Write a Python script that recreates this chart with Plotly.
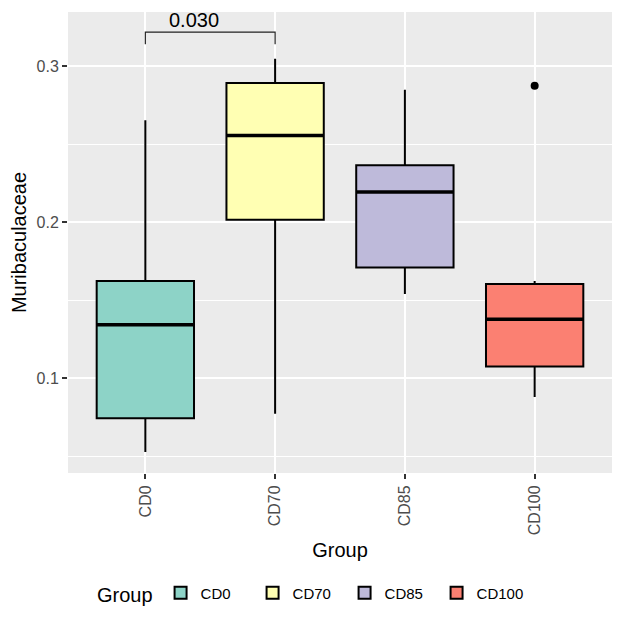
import plotly.graph_objs as go

# values
groups = ['CD0', 'CD70', 'CD85', 'CD100']
colors = ['#8DD3C7', '#FFFFB3', '#BEBADA', '#FB8072']
lower = [0.0528, 0.0773, 0.1541, 0.0881]
q1 = [0.0745, 0.2017, 0.1711, 0.1077]
median = [0.1345, 0.2558, 0.2196, 0.1379]
q3 = [0.1624, 0.2894, 0.2366, 0.1605]
upper = [0.2655, 0.3050, 0.2850, 0.1624]
outlier_group = [3]
outlier_value = [0.2877]

# significance bracket CD0 vs CD70
pval_text = '0.030'
bracket_groups = [0, 1]
bracket_top = 0.322
bracket_foot = 0.3143
label_x = 0.373
label_y = 0.3295

box_width = 0.75
font = 'Liberation Sans'

traces = []
for i, g in enumerate(groups):
    traces.append(go.Box(
        x=[i], name=g,
        q1=[q1[i]], median=[median[i]], q3=[q3[i]],
        lowerfence=[lower[i]], upperfence=[upper[i]],
        width=box_width,
        fillcolor=colors[i],
        line=dict(color='black', width=2),
        whiskerwidth=0,
        boxpoints=False,
        hoverinfo='skip'
    ))

# thicker median lines like ggplot
for i in range(len(groups)):
    traces.append(go.Scatter(
        x=[i - box_width / 2, i + box_width / 2],
        y=[median[i], median[i]],
        mode='lines', line=dict(color='black', width=3.5),
        showlegend=False, hoverinfo='skip'
    ))

traces.append(go.Scatter(
    x=outlier_group, y=outlier_value, mode='markers',
    marker=dict(color='black', size=8),
    showlegend=False, hoverinfo='skip'
))

x0, x1 = bracket_groups
bracket = go.Scatter(
    x=[x0, x0, x1, x1],
    y=[bracket_foot, bracket_top, bracket_top, bracket_foot],
    mode='lines', line=dict(color='#222222', width=1.2),
    showlegend=False, hoverinfo='skip'
)
traces.append(bracket)

layout = go.Layout(
    width=624, height=624,
    margin=dict(l=68, r=12, t=12, b=149),
    paper_bgcolor='white',
    plot_bgcolor='#EBEBEB',
    font=dict(family=font, color='black'),
    boxmode='overlay',
    showlegend=True,
    xaxis=dict(
        range=[-0.596, 3.596],
        automargin=False,
        tickmode='array', tickvals=list(range(len(groups))), ticktext=groups,
        tickangle=-90,
        tickfont=dict(size=16, color='#4D4D4D'),
        ticks='outside', ticklen=5, tickwidth=1.5, tickcolor='#333333',
        showgrid=True, gridcolor='white', gridwidth=1.6,
        zeroline=False, showline=False,
        title=dict(text='Group', font=dict(size=20), standoff=8)
    ),
    yaxis=dict(
        range=[0.0394, 0.3349],
        automargin=False,
        tickmode='array', tickvals=[0.1, 0.2, 0.3], ticktext=['0.1', '0.2', '0.3'],
        tickfont=dict(size=16, color='#4D4D4D'),
        ticks='outside', ticklen=5, tickwidth=1.5, tickcolor='#333333',
        showgrid=True, gridcolor='white', gridwidth=1.6,
        minor=dict(tickvals=[0.05, 0.15, 0.25], showgrid=True,
                   gridcolor='white', gridwidth=0.8, ticks=''),
        zeroline=False, showline=False,
        title=dict(text='Muribaculaceae', font=dict(size=20), standoff=4)
    ),
    legend=dict(
        orientation='h',
        x=0.4485, xanchor='center',
        y=-0.2635, yanchor='middle',
        title=dict(text='Group', font=dict(size=20), side='left'),
        font=dict(size=15),
        entrywidth=47,
        bgcolor='rgba(0,0,0,0)'
    ),
    annotations=[dict(
        x=label_x, y=label_y, xref='x', yref='y',
        text=pval_text, showarrow=False,
        font=dict(size=20, color='black'),
        xanchor='center', yanchor='middle'
    )]
)

fig = go.Figure(data=traces, layout=layout)
# drop the default page margin so the figure sits at the window corner
fig.write_html("out.html", config={'displayModeBar': False},
               post_script="document.body.style.margin='0';")
